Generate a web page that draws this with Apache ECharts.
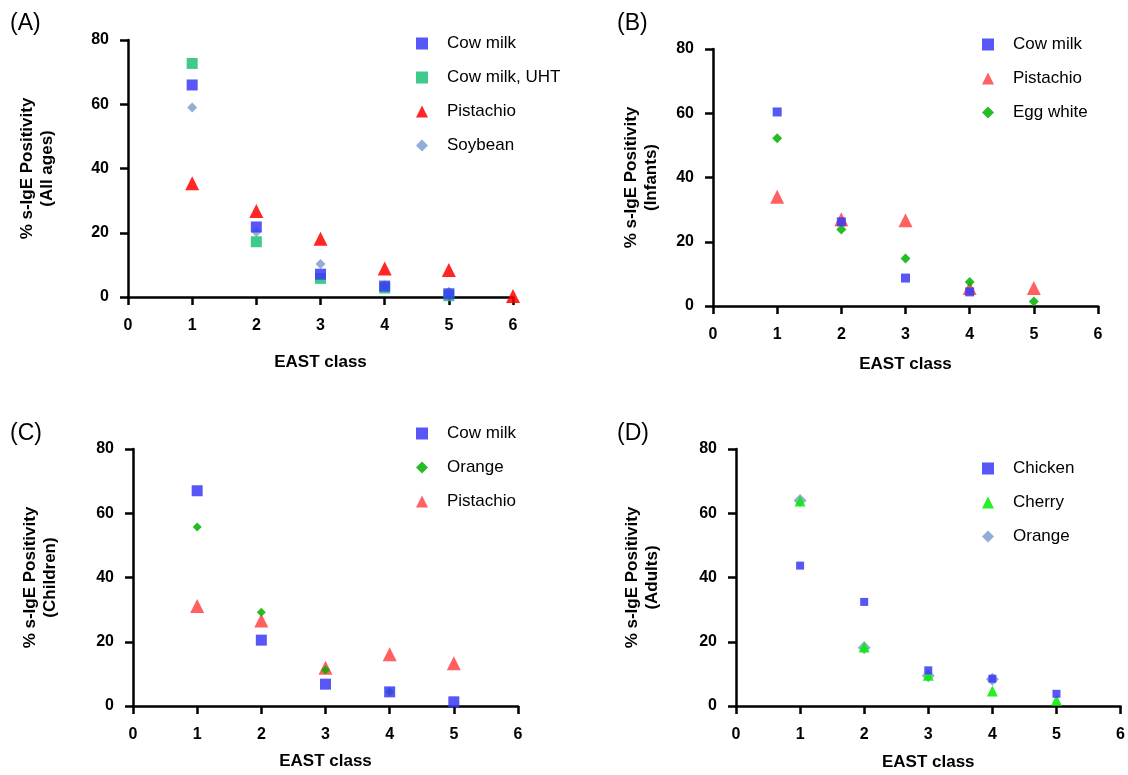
<!DOCTYPE html>
<html>
<head>
<meta charset="utf-8">
<script src="https://cdn.jsdelivr.net/npm/echarts@6/dist/echarts.min.js"></script>
<style>
  html, body { margin: 0; background: #fff; }
  #chart { width: 1128px; height: 775px; }
</style>
</head>
<body>
<div id="chart"></div>
<script>
// EAST class on x axis
const eastClass = [1, 2, 3, 4, 5, 6];
const xTicks = [0, 1, 2, 3, 4, 5, 6];
const yTicks = [0, 20, 40, 60, 80];

// (A) all ages
const aCowMilk = [66.0, 21.8, 7.1, 3.4, 1.0];
const aCowMilkUHT = [72.7, 17.2, 5.8, 2.8, 0.4];
const aPistachio = [35.4, 26.8, 18.1, 8.9, 8.4, 0.3];
const aSoybean = [59.0, 20.2, 10.3, 3.6, 1.6];

// (B) infants
const bCowMilk = [60.4, 26.2, 8.7, 4.4];
const bPistachio = [34.0, 27.0, 26.7, 5.6, 5.6];
const bEggWhite = [52.2, 23.8, 14.8, 7.5, 1.4];

// (C) children
const cCowMilk = [67.0, 20.5, 6.8, 4.4, 1.3];
const cOrange = [55.7, 29.2, 11.2, 4.4];
const cPistachio = [31.1, 26.6, 11.9, 16.1, 13.3];

// (D) adults
const dChicken = [43.7, 32.4, 11.1, 8.5, 3.8];
const dCherry = [63.8, 18.4, 9.6, 4.7, 1.8];
const dOrange = [64.0, 18.1, 9.4, 8.3];

const FONT = 'Liberation Sans, Arial, sans-serif';

const BLUE = '#3a3af6';
const RED = '#ff0000';
const LRED = '#ff4545';
const TEAL = '#1fbf78';
const STEEL = '#7f9fd0';
const GREEN = '#00b000';
const LIME = '#00ee00';

function pts(values) {
    return values.map((v, i) => [eastClass[i], v]);
}

function xAxis(gi, gap) {
    return {
        gridIndex: gi, type: 'value', min: 0, max: 6, interval: 1,
        name: 'EAST class', nameLocation: 'middle', nameGap: gap,
        nameTextStyle: {fontFamily: FONT, fontSize: 17, fontWeight: 'bold', color: '#000'},
        axisLine: {onZero: false, lineStyle: {color: '#000', width: 2.5}},
        axisTick: {show: true, length: 8, lineStyle: {color: '#000', width: 2.5}},
        axisLabel: {margin: 21, fontFamily: FONT, fontSize: 16, fontWeight: 'bold', color: '#000',
            customValues: xTicks},
        splitLine: {show: false}
    };
}

function yAxis(gi, label, gap) {
    return {
        gridIndex: gi, type: 'value', min: 0, max: 80, interval: 20,
        name: '% s-IgE Positivity\n(' + label + ')', nameLocation: 'middle', nameGap: gap,
        nameTextStyle: {fontFamily: FONT, fontSize: 17, fontWeight: 'bold', color: '#000', lineHeight: 20},
        axisLine: {show: true, onZero: false, lineStyle: {color: '#000', width: 2.5}},
        axisTick: {show: true, length: 8, lineStyle: {color: '#000', width: 2.5}},
        axisLabel: {margin: 19, fontFamily: FONT, fontSize: 16, fontWeight: 'bold', color: '#000',
            customValues: yTicks},
        splitLine: {show: false}
    };
}

function scatter(name, gi, values, color, symbol, size, z) {
    return {
        name: name, type: 'scatter', xAxisIndex: gi, yAxisIndex: gi,
        symbol: symbol, symbolSize: size, z: z,
        itemStyle: {color: color, opacity: 0.85},
        data: pts(values)
    };
}

function legend(names, left, top) {
    return {
        orient: 'vertical', left: left, top: top,
        itemWidth: 12, itemHeight: 12, itemGap: 17,
        data: names,
        formatter: n => n.split('|')[1],
        textStyle: {fontFamily: FONT, fontSize: 17, color: '#000', padding: [0, 0, 0, 14]}
    };
}

const chart = echarts.init(document.getElementById('chart'));

chart.setOption({
    backgroundColor: '#fff',
    animation: false,
    title: [
        {text: '(A)', left: 5, top: 7},
        {text: '(B)', left: 612, top: 7},
        {text: '(C)', left: 5, top: 417},
        {text: '(D)', left: 612, top: 417}
    ].map(t => Object.assign(t, {textStyle: {fontFamily: FONT, fontSize: 23, fontWeight: 'normal', color: '#000'}})),
    grid: [
        {left: 128, top: 40, width: 385, height: 257},
        {left: 713, top: 49, width: 385, height: 257},
        {left: 133, top: 449, width: 385, height: 257},
        {left: 736, top: 449, width: 385, height: 257}
    ],
    xAxis: [xAxis(0, 57), xAxis(1, 50), xAxis(2, 47), xAxis(3, 48)],
    yAxis: [
        yAxis(0, 'All ages', 71),
        yAxis(1, 'Infants', 52),
        yAxis(2, 'Children', 73),
        yAxis(3, 'Adults', 74)
    ],
    legend: [
        legend(['A|Cow milk', 'A|Cow milk, UHT', 'A|Pistachio', 'A|Soybean'], 411, 30),
        legend(['B|Cow milk', 'B|Pistachio', 'B|Egg white'], 977, 31),
        legend(['C|Cow milk', 'C|Orange', 'C|Pistachio'], 411, 420),
        legend(['D|Chicken', 'D|Cherry', 'D|Orange'], 977, 455)
    ],
    series: [
        scatter('A|Soybean', 0, aSoybean, STEEL, 'diamond', 10, 2),
        scatter('A|Cow milk, UHT', 0, aCowMilkUHT, TEAL, 'rect', 11, 3),
        scatter('A|Cow milk', 0, aCowMilk, BLUE, 'rect', 11, 4),
        scatter('A|Pistachio', 0, aPistachio, RED, 'triangle', 14, 5),

        scatter('B|Egg white', 1, bEggWhite, GREEN, 'diamond', 10, 3),
        scatter('B|Pistachio', 1, bPistachio, LRED, 'triangle', 14, 2),
        scatter('B|Cow milk', 1, bCowMilk, BLUE, 'rect', 9, 4),

        scatter('C|Orange', 2, cOrange, GREEN, 'diamond', 9, 3),
        scatter('C|Pistachio', 2, cPistachio, LRED, 'triangle', 14, 2),
        scatter('C|Cow milk', 2, cCowMilk, BLUE, 'rect', 11, 4),

        scatter('D|Orange', 3, dOrange, STEEL, 'diamond', 13, 2),
        scatter('D|Cherry', 3, dCherry, LIME, 'triangle', 11, 3),
        scatter('D|Chicken', 3, dChicken, BLUE, 'rect', 8, 4)
    ]
});
</script>
</body>
</html>
